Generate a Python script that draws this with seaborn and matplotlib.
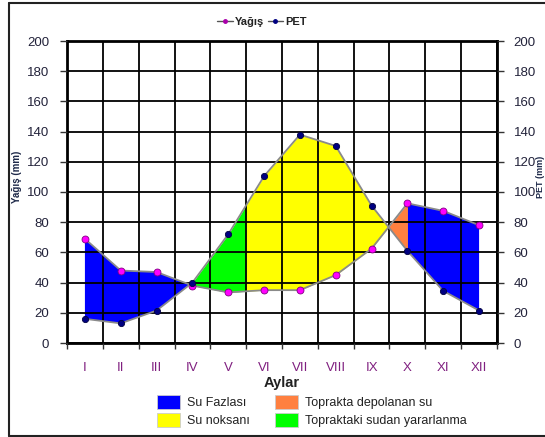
import numpy as np
import pandas as pd
import matplotlib
matplotlib.use("Agg")
import matplotlib.pyplot as plt
from matplotlib.lines import Line2D
from matplotlib.patches import Patch
import seaborn as sns

# Monthly water balance (mm)
months = ["I", "II", "III", "IV", "V", "VI", "VII", "VIII", "IX", "X", "XI", "XII"]
yagis = [69, 48, 47, 38, 33.5, 35, 35, 45, 62.5, 92.5, 87.5, 78]
pet = [16, 13, 21.5, 40, 72, 110.5, 138, 130.5, 91, 61, 34.5, 21.5]
y_ticks = [0, 20, 40, 60, 80, 100, 120, 140, 160, 180, 200]

legend_labels = ["Su Fazlası", "Su noksanı", "Toprakta depolanan su", "Topraktaki sudan yararlanma"]
legend_colors = ["#0000ff", "#ffff00", "#ff8040", "#00ff00"]

sns.set_style("white")
plt.rcParams["font.family"] = ["Liberation Sans", "DejaVu Sans"]

pos = np.arange(1, len(months) + 1)
df = pd.DataFrame({"ay": pos, "Yağış": yagis, "PET": pet})

fig = plt.figure(figsize=(5.45, 4.37), dpi=100)
ax = fig.add_axes([67 / 545, 1 - 343 / 437, 430 / 545, 302 / 437])

# dense x grid including the exact crossing points of the two curves
p = np.array(yagis, float)
e = np.array(pet, float)
diff = p - e
cross = []
for i in range(len(pos) - 1):
    if diff[i] * diff[i + 1] < 0:
        t = diff[i] / (diff[i] - diff[i + 1])
        cross.append(pos[i] + t)
xs = np.union1d(np.linspace(1, 12, 2201), np.array(cross))
py = np.interp(xs, pos, p)
ey = np.interp(xs, pos, e)
d = py - ey
tol = 1e-9

surplus = (d >= -tol) & ((xs <= 4.5) | (xs >= 10))
stored = (d >= -tol) & (xs >= 9) & (xs <= 10)
used = (d <= tol) & (xs >= 3) & (xs <= 5.5)
deficit = (d <= tol) & (xs >= 5.5) & (xs <= 10)

ax.fill_between(xs, py, ey, where=surplus, color=legend_colors[0], lw=0, zorder=1)
ax.fill_between(xs, py, ey, where=deficit, color=legend_colors[1], lw=0, zorder=1)
ax.fill_between(xs, py, ey, where=stored, color=legend_colors[2], lw=0, zorder=1)
ax.fill_between(xs, py, ey, where=used, color=legend_colors[3], lw=0, zorder=1)

sns.lineplot(data=df, x="ay", y="Yağış", ax=ax, color="#8a8a8a", lw=1.3,
             marker="o", markersize=5, markerfacecolor="#ff00ff",
             markeredgecolor="#800080", markeredgewidth=0.6, legend=False, zorder=4)
sns.lineplot(data=df, x="ay", y="PET", ax=ax, color="#8a8a8a", lw=1.3,
             marker="o", markersize=4.5, markerfacecolor="#000080",
             markeredgecolor="#000040", markeredgewidth=0.6, legend=False, zorder=4)

ax.set_xlim(0.5, 12.5)
ax.set_ylim(0, 200)
ax.set_yticks(y_ticks)
ax.set_xticks(pos)
ax.set_xticklabels(months)
ax.set_xticks(np.arange(0.5, 12.6, 1), minor=True)

tick_col = "#22223a"
ax.tick_params(axis="y", which="major", direction="out", length=5, width=1,
               color="#333333", labelsize=9.5, labelcolor=tick_col, pad=8,
               left=True)
ax.tick_params(axis="x", which="major", length=0, labelsize=9.5,
               labelcolor="#802080", pad=14)
ax.tick_params(axis="x", which="minor", direction="out", length=4, width=1,
               color="#333333", bottom=True)

ax.set_axisbelow(False)
ax.grid(axis="y", which="major", color="black", lw=1.3, zorder=2.5)
ax.grid(axis="x", which="minor", color="black", lw=1.3, zorder=2.5)
ax.grid(axis="x", which="major", visible=False)
for s in ax.spines.values():
    s.set_color("black")
    s.set_linewidth(2)
    s.set_visible(True)

ax.set_xlabel("Aylar", fontsize=10.5, fontweight="bold", color="#222222", labelpad=1)
ax.set_ylabel("Yağış (mm)", fontsize=7, fontweight="bold", color="#1f2a4a", labelpad=6)
ax.yaxis.set_label_coords(-0.105, 0.55)

ax2 = ax.twinx()
ax2.set_ylim(0, 200)
ax2.set_yticks(y_ticks)
ax2.tick_params(axis="y", direction="out", length=5, width=1, color="#333333",
                labelsize=9.5, labelcolor=tick_col, pad=7, right=True)
ax2.set_ylabel("PET (mm)", fontsize=6.5, fontweight="bold", color="#1f2a4a")
ax2.yaxis.set_label_coords(1.090, 0.55)
for s in ax2.spines.values():
    s.set_visible(False)

# series key above the plot
series_handles = [
    Line2D([], [], color="#555555", lw=1, marker="o", markersize=2.5,
           markerfacecolor="#aa00aa", markeredgecolor="#aa00aa"),
    Line2D([], [], color="#555555", lw=1, marker="o", markersize=2.5,
           markerfacecolor="#000080", markeredgecolor="#000080"),
]
fig.legend(series_handles, ["Yağış", "PET"], loc="center",
           bbox_to_anchor=(262 / 545, 1 - 22 / 437), ncol=2, frameon=False,
           prop={"size": 8, "weight": "bold"}, handlelength=1.4,
           handletextpad=0.2, columnspacing=0.3, labelcolor="#222222")

# fill key below the plot
patch_handles = [Patch(facecolor=c, edgecolor="#cccccc", lw=0.6) for c in legend_colors]
fig.legend(patch_handles, legend_labels, loc="center",
           bbox_to_anchor=(312 / 545, 1 - 411 / 437), ncol=2, frameon=False,
           fontsize=9, handlelength=1.8, handleheight=1.45, handletextpad=0.6,
           columnspacing=2.0, labelspacing=0.25, labelcolor="#222222")

# outer frame of the chart
frame_kw = dict(color="#222222", lw=1.5, transform=fig.transFigure)
fig.add_artist(Line2D([9 / 545, 9 / 545], [1 - 436 / 437, 1 - 3 / 437], **frame_kw))
fig.add_artist(Line2D([9 / 545, 1], [1 - 3 / 437, 1 - 3 / 437], **frame_kw))
fig.add_artist(Line2D([9 / 545, 1], [1 - 436 / 437, 1 - 436 / 437], **frame_kw))

fig.savefig("out.png", dpi=100)
